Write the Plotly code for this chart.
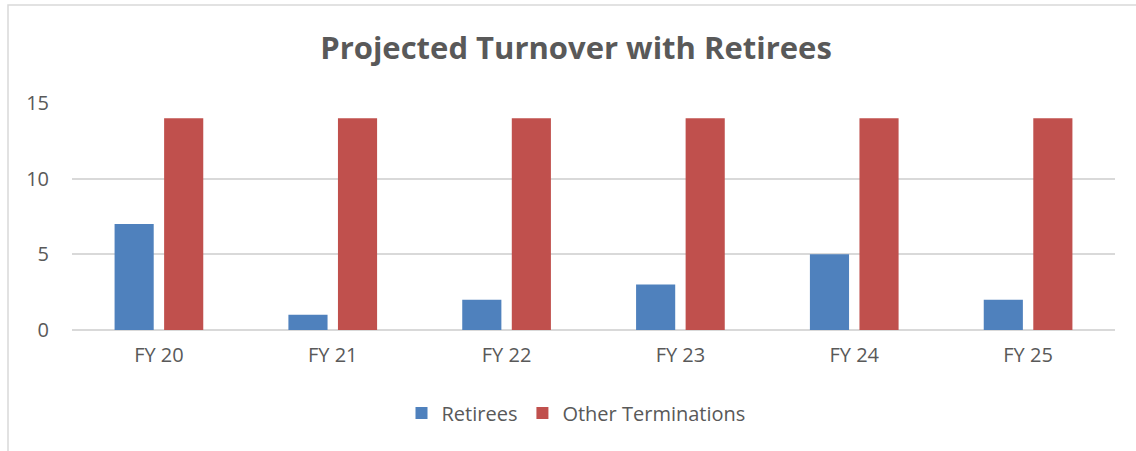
import plotly.graph_objects as go

categories = ["FY 20", "FY 21", "FY 22", "FY 23", "FY 24", "FY 25"]
retirees = [7, 1, 2, 3, 5, 2]
other_terminations = [14, 14, 14, 14, 14, 14]

W, H = 1136, 451
ml, mr, mt, mb = 72, 21, 103, 121
pw = W - ml - mr
ph = H - mt - mb

def px_x(p):
    return (p - ml) / pw

def px_y(p):
    return (H - mb - p) / ph

font = "Open Sans, Liberation Sans, sans-serif"
gray = "#595959"

fig = go.Figure()
fig.add_trace(go.Bar(name="Retirees", x=categories, y=retirees,
                     marker=dict(color="#4F81BD", line=dict(width=0))))
fig.add_trace(go.Bar(name="Other Terminations", x=categories, y=other_terminations,
                     marker=dict(color="#C0504D", line=dict(width=0))))

fig.update_layout(
    width=W, height=H,
    margin=dict(l=ml, r=mr, t=mt, b=mb, pad=0),
    paper_bgcolor="white", plot_bgcolor="white",
    barmode="group", bargap=0.43, bargroupgap=0.21,
    title=dict(text="<b>Projected Turnover with Retirees</b>", x=576 / W, xanchor="center",
               y=1 - 48 / H, yanchor="middle",
               font=dict(family=font, size=31, color=gray)),
    font=dict(family=font, size=20, color=gray),
    showlegend=True,
    legend=dict(orientation="h", x=px_x(576), xanchor="center", y=px_y(413), yanchor="middle",
                font=dict(family=font, size=20, color=gray), itemwidth=30,
                traceorder="normal", itemsizing="constant"),
    xaxis=dict(showgrid=False, showline=False, ticks="", tickfont=dict(size=20, color=gray),
               ticklabelstandoff=11),
    yaxis=dict(range=[0, 15], dtick=5, tick0=0, showgrid=True, gridcolor="#d9d9d9",
               gridwidth=1.5, zeroline=True, zerolinecolor="#d9d9d9", zerolinewidth=1.5,
               showline=False, ticks="", tickfont=dict(size=20, color=gray),
               ticklabelstandoff=22),
    shapes=[dict(type="rect", xref="paper", yref="paper",
                 x0=px_x(8), x1=px_x(1150), y0=px_y(470), y1=px_y(5),
                 line=dict(color="#d9d9d9", width=1.5), fillcolor="rgba(0,0,0,0)", layer="below")],
)

fig.write_html("out.html", config={"displayModeBar": False},
               post_script="document.body.style.margin='0';document.body.style.overflow='hidden';")
